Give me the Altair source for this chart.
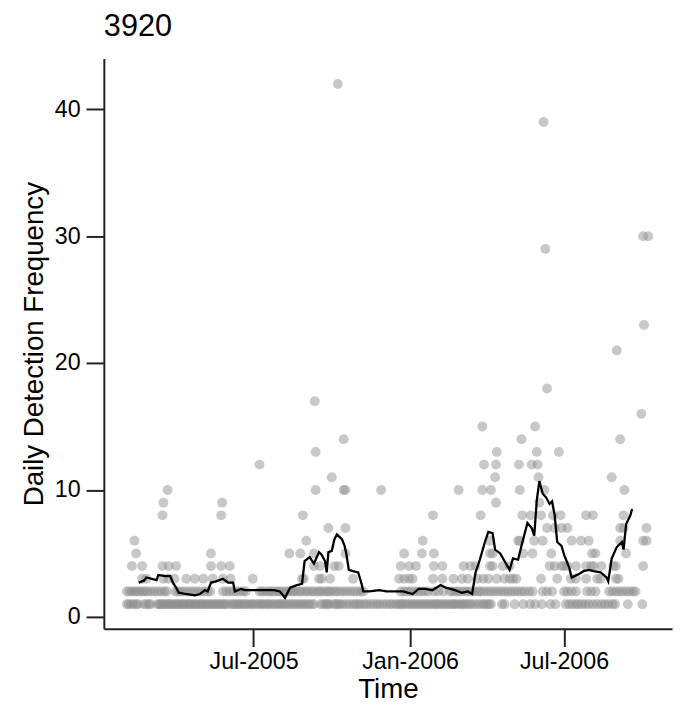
import altair as alt
import pandas as pd

# Daily detection counts: day offsets (from 2005-01-01) observed at each count level
cnt1_days = [32, 34, 37, 40, 43, 45, 52, 55, 58, 60,
             68, 70, 72, 74, 76, 79, 81, 83, 85, 88, 90, 92, 94, 97, 99, 101, 104, 106, 108, 111, 113, 115,
             118, 120, 122, 125, 127, 130, 132, 135, 137, 140, 142, 145, 147, 150,
             154, 157, 159, 162, 164, 167, 170, 172, 175, 178, 180, 183, 186, 189, 191, 194, 197, 199, 202,
             205, 208, 211, 213, 216, 219, 222, 225, 228, 231, 234, 237, 240, 243, 246, 249, 252,
             260, 263, 266, 268, 270, 275, 278, 280, 283, 286, 290, 294, 298, 301, 304, 307, 311, 314,
             318, 322, 326, 329, 333, 337, 341, 344,
             348, 351, 354, 356, 359, 362, 365, 368, 371, 374, 377, 380, 383, 386, 389, 392, 395,
             397, 400, 403, 406, 409, 412, 415, 417, 420, 423, 426, 428, 431, 434, 437, 441, 445, 449, 452,
             455, 458, 460,
             473, 476, 488, 498, 506, 512, 520, 530, 536,
             548, 552, 556, 560, 563, 567, 571, 575, 580, 585, 590, 594, 598, 603, 606,
             621, 638]
cnt2_days = [32, 35, 38, 41, 44, 47, 50, 53, 56, 60, 64, 68, 72, 76, 79,
             89, 92, 95, 99, 103, 107, 111, 115, 119, 123, 127, 130,
             145, 149, 153, 157, 161, 165, 169, 172,
             188, 191, 194, 198, 201, 204, 208, 211, 214, 218, 221, 225, 228, 231, 235, 238, 242, 245, 249,
             252, 256, 259, 262, 266, 269, 272, 276, 279, 283, 287, 291, 295, 299, 303, 307, 310,
             354, 358, 362, 366, 370, 374, 378, 382, 386,
             393, 398, 404,
             412, 415, 419, 422, 426, 430, 433, 437, 441, 445, 448, 452, 456, 460, 464, 468, 472, 476, 480,
             484, 488, 492, 496, 500, 505, 509,
             521, 526, 532,
             546, 550, 555, 560,
             573, 578, 583,
             599, 603, 607, 611, 615, 619, 623, 627, 630]
cnt3_days = [50, 55, 75, 81, 88, 102, 112, 122, 133, 145, 154, 180, 238, 240, 258, 261, 271, 298,
             352, 358, 364, 368, 392, 403, 416, 426, 433, 444, 451, 457, 467, 476, 482, 486, 490,
             519, 538, 554, 560, 572, 585, 589, 607, 610]
cnt4_days = [38, 50, 74, 81, 90, 131, 143, 153, 252, 259, 276, 281, 354, 364, 372, 393, 403, 428, 436,
             442, 459, 462, 474, 482, 529, 535, 543, 546, 550, 560, 572, 578, 581, 590, 604, 607, 639]
cnt5_days = [43, 131, 223, 236, 252, 289, 358, 379, 393, 459, 462, 498, 509, 531, 579, 583, 619]
cnt6_days = [41, 243, 380, 459, 492, 494, 511, 521, 555, 566, 575, 612, 639, 643]
cnt7_days = [269, 289, 526, 535, 543, 550, 612, 616, 643]
cnt8_days = [74, 143, 239, 392, 448, 497, 507, 519, 533, 542, 572, 580, 616]
cnt9_days = [75, 144, 466, 517]
cnt10_days = [80, 254, 287, 289, 331, 422, 450, 460, 494, 523, 617]
cnt11_days = [273, 465, 516, 602]
cnt12_days = [188, 452, 466, 493, 508, 515]
cnt13_days = [254, 467, 514, 540]
cnt14_days = [287, 496, 612]
cnt15_days = [450, 512]
cnt16_days = [637]
cnt17_days = [253]
cnt18_days = [526]
cnt21_days = [608]
cnt23_days = [640]
cnt29_days = [524]
cnt30_days = [639, 645]
cnt39_days = [522]
cnt42_days = [280]

# Smoothed (running mean) detection frequency
line_days = [46, 52, 55, 67, 69, 77, 83, 87, 90, 93, 101, 112, 118, 124, 127, 131, 137, 145, 151, 157,
             159, 166, 171, 182, 194, 205, 212, 218, 224, 232, 238, 241, 247, 252, 258, 261, 265, 267, 269, 273,
             276, 279, 285, 288, 290, 293, 298, 304, 308, 310, 317, 329, 337, 357, 368, 375, 383, 391, 401, 407,
             418, 426, 433, 438, 442, 447, 453, 457, 462, 465, 471, 476, 482, 486, 492, 496, 503, 508, 511, 514,
             517, 521, 525, 529, 532, 535, 538, 543, 546, 552, 555, 564, 569, 575, 581, 589, 596, 598, 602, 608,
             614, 616, 619, 624, 626]
line_vals = [2.7, 2.85, 3.1, 2.9, 3.3, 3.2, 3.2, 2.6, 2.3, 1.9, 1.8, 1.7, 1.8, 2.1, 2.0, 2.7, 2.8, 3.0, 2.7, 2.7,
             2.0, 2.2, 2.1, 2.1, 2.1, 2.1, 2.0, 1.5, 2.3, 2.5, 2.6, 4.4, 4.7, 4.2, 5.1, 4.9, 4.4, 3.5, 5.1, 5.2,
             6.1, 6.5, 6.1, 5.6, 5.0, 3.7, 3.6, 3.5, 2.6, 2.0, 2.0, 2.1, 2.0, 2.0, 1.8, 2.2, 2.2, 2.1, 2.5, 2.3,
             2.1, 1.9, 2.0, 1.8, 3.5, 4.5, 5.9, 6.7, 6.6, 5.3, 5.0, 4.4, 3.7, 4.6, 4.5, 5.6, 7.4, 7.0, 6.4, 9.2,
             10.7, 9.7, 9.4, 8.9, 9.1, 8.0, 5.9, 5.6, 4.9, 3.9, 3.1, 3.4, 3.6, 3.7, 3.6, 3.5, 3.1, 2.8, 4.6, 5.5,
             5.9, 5.3, 7.3, 8.0, 8.5]

levels = {
    1: cnt1_days, 2: cnt2_days, 3: cnt3_days, 4: cnt4_days, 5: cnt5_days, 6: cnt6_days,
    7: cnt7_days, 8: cnt8_days, 9: cnt9_days, 10: cnt10_days, 11: cnt11_days, 12: cnt12_days,
    13: cnt13_days, 14: cnt14_days, 15: cnt15_days, 16: cnt16_days, 17: cnt17_days, 18: cnt18_days,
    21: cnt21_days, 23: cnt23_days, 29: cnt29_days, 30: cnt30_days, 39: cnt39_days, 42: cnt42_days,
}

start = pd.Timestamp("2005-01-01")
rows = []
for cnt, days in levels.items():
    for d in days:
        rows.append({"date": (start + pd.Timedelta(days=d)).strftime("%Y-%m-%dT00:00:00"), "count": cnt})
pts = pd.DataFrame(rows)

line_df = pd.DataFrame({
    "date": [(start + pd.Timedelta(days=d)).strftime("%Y-%m-%dT00:00:00") for d in line_days],
    "mean": line_vals,
})

FONT = "Liberation Sans"

x_scale = alt.Scale(domain=[alt.DateTime(year=2005, month=1, date=6),
                            alt.DateTime(year=2006, month=11, date=5)], nice=False)
y_scale = alt.Scale(domain=[-0.94, 44.0], nice=False, zero=False)

x_axis = alt.Axis(
    title="Time",
    values=[alt.DateTime(year=2005, month=7, date=1),
            alt.DateTime(year=2006, month=1, date=1),
            alt.DateTime(year=2006, month=7, date=1)],
    format="%b-%Y", grid=False, tickSize=18, tickWidth=2, tickColor="#222",
    domainColor="#222", domainWidth=2, labelFontSize=23.5, titleFontSize=28,
    labelColor="black", titleColor="black", labelFont=FONT, titleFont=FONT,
    titleFontWeight="normal", labelPadding=3, titlePadding=3,
)
y_axis = alt.Axis(
    title="Daily Detection Frequency",
    values=[0, 10, 20, 30, 40], grid=False, tickSize=18, tickWidth=2, tickColor="#222",
    domainColor="#222", domainWidth=2, labelFontSize=23.5, titleFontSize=28,
    labelColor="black", titleColor="black", labelFont=FONT, titleFont=FONT,
    titleFontWeight="normal", labelPadding=6, titlePadding=6,
)

points = alt.Chart(pts).mark_circle(size=100, color="#8c8c8c", opacity=0.48).encode(
    x=alt.X("date:T", scale=x_scale, axis=x_axis),
    y=alt.Y("count:Q", scale=y_scale, axis=y_axis),
)

line = alt.Chart(line_df).mark_line(color="black", strokeWidth=2.3).encode(
    x=alt.X("date:T", scale=x_scale),
    y=alt.Y("mean:Q", scale=y_scale),
)

chart = alt.layer(points, line).properties(
    width=575,
    height=577,
    title=alt.TitleParams("3920", anchor="start", frame="group", fontSize=31, font=FONT,
                          fontWeight="normal", color="black", offset=16),
    autosize=alt.AutoSizeParams(type="none"),
    padding={"left": 97, "top": 47, "right": 4, "bottom": 76},
).configure_view(stroke=None)

chart.save("out.html", embed_options={"renderer": "svg", "actions": False})
